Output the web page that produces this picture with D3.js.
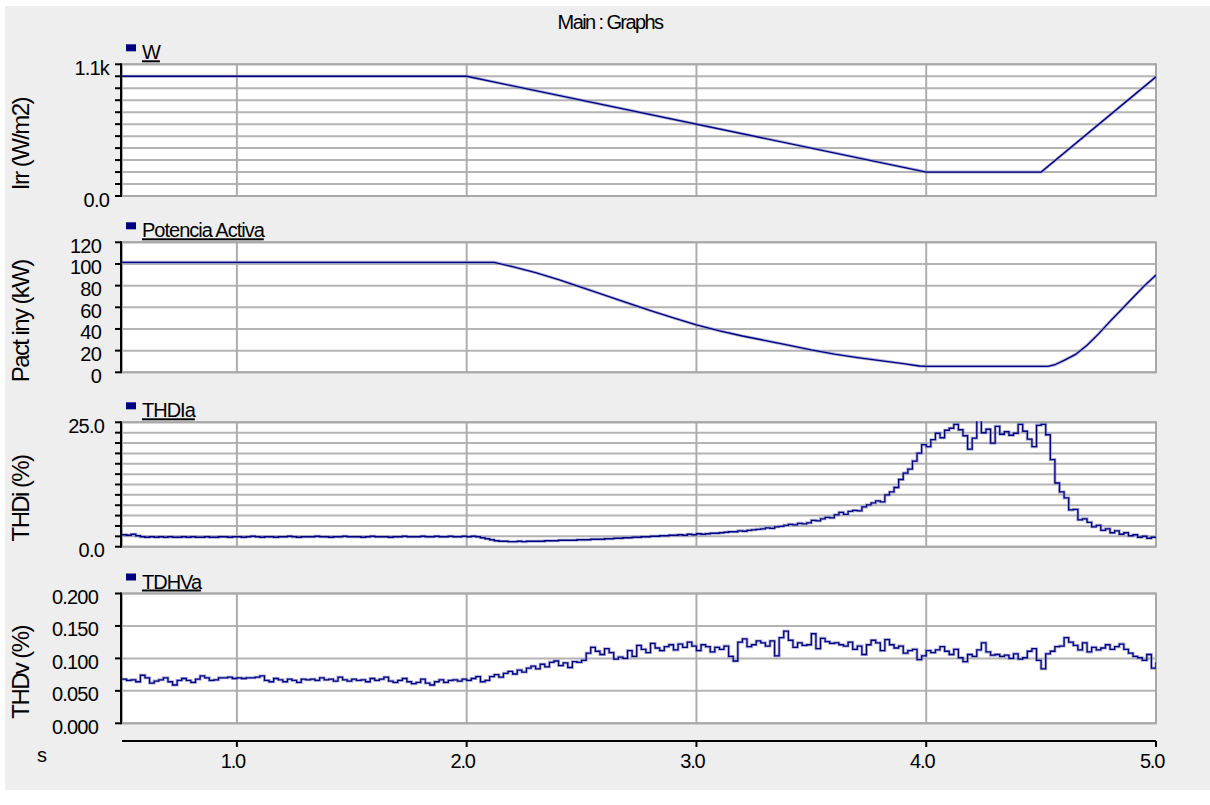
<!DOCTYPE html>
<html><head><meta charset="utf-8">
<script src="https://cdn.jsdelivr.net/npm/d3@7"></script>
<style>
html,body{margin:0;padding:0;background:#fff;}
svg{display:block;}
text{font-family:"Liberation Sans",Arial,sans-serif;fill:#000;}
</style></head><body>
<svg id="c" width="1210" height="805"></svg>
<script>
// ---------------- data ----------------
const chartTitle = "Main : Graphs";
const xTickValues = [1.0, 2.0, 3.0, 4.0, 5.0];
const xTickLabels = ["1.0", "2.0", "3.0", "4.0", "5.0"];
const legendNames = ["W", "Potencia Activa", "THDIa", "TDHVa"];
const yTitles = ["Irr (W/m2)", "Pact iny (kW)", "THDi (%)", "THDv (%)"];

const irrTicks = [0,100,200,300,400,500,600,700,800,900,1000,1100];
const irrTickLabels = ["0.0","","","","","","","","","","","1.1k"];
const pactTicks = [0,20,40,60,80,100,120];
const pactTickLabels = ["0","20","40","60","80","100","120"];
const thdiTicks = [0,2.0833,4.1667,6.25,8.3333,10.4167,12.5,14.5833,16.6667,18.75,20.8333,22.9167,25];
const thdiTickLabels = ["0.0","","","","","","","","","","","","25.0"];
const thdvTicks = [0,0.05,0.10,0.15,0.20];
const thdvTickLabels = ["0.000","0.050","0.100","0.150","0.200"];

// Irradiance (W/m2) breakpoints
const irrTime  = [0.5, 2.0, 4.0, 4.5, 5.0];
const irrValue = [1000, 1000, 200, 200, 995];

// Active power (kW) breakpoints
const pactTime  = [0.5, 2.0, 2.12, 2.2, 2.3, 2.4, 2.5, 2.6, 2.7, 2.8, 2.9, 3.0, 3.1, 3.2, 3.3, 3.4, 3.5, 3.6, 3.7, 3.8, 3.9, 3.97, 4.0, 4.53, 4.56, 4.6, 4.65, 4.7, 4.75, 4.8, 4.85, 4.9, 4.95, 5.0];
const pactValue = [101.5, 101.5, 101.5, 97.5, 92, 85.5, 78.5, 71.3, 64, 57, 50.2, 43.7, 38.3, 33.5, 29.3, 25, 20.6, 16.8, 13.6, 10.8, 8.0, 5.8, 5.5, 5.5, 7, 11, 16.5, 25, 35.5, 47, 58, 69, 80, 89.8];

// sampled traces: t = 0.50, 0.52, ... 5.00
const sampleStart = 0.5, sampleStep = 0.02;
const thdiValue = [
 2.4,2.3,2.5,2.2,2.0,1.9,2.0,1.9,2.0,1.9,
 2.0,1.9,1.9,2.0,1.9,2.0,1.9,1.9,2.0,1.9,
 1.9,2.0,2.0,1.9,2.0,2.0,1.9,2.0,2.1,2.0,
 1.9,2.0,2.0,1.9,2.0,2.0,2.1,2.0,1.9,2.0,
 2.0,2.0,2.1,2.0,2.0,1.9,2.0,2.0,2.1,2.0,
 2.0,2.0,1.9,2.0,2.1,2.0,2.0,2.0,1.9,2.0,
 2.0,2.1,2.0,2.0,2.0,2.1,2.0,2.0,2.1,2.0,
 2.0,2.1,2.0,2.0,2.1,2.0,2.1,2.0,1.8,1.6,
 1.4,1.2,1.1,1.1,1.0,1.0,1.1,1.0,1.1,1.1,
 1.1,1.1,1.2,1.2,1.2,1.3,1.3,1.3,1.3,1.4,
 1.4,1.4,1.5,1.5,1.5,1.6,1.6,1.7,1.7,1.8,
 1.8,1.9,1.9,2.0,2.0,2.1,2.1,2.2,2.2,2.3,
 2.3,2.4,2.3,2.5,2.4,2.6,2.5,2.6,2.7,2.7,
 2.8,2.9,3.0,3.0,3.2,3.1,3.3,3.4,3.5,3.6,
 3.8,3.7,4.0,4.1,4.3,4.5,4.4,4.7,4.6,4.8,
 5.3,5.2,5.6,5.9,5.8,6.4,6.9,6.5,7.1,7.3,
 7.2,8.0,8.4,8.8,9.2,9.0,10.4,11.0,11.9,13.5,
 14.8,15.6,17.2,18.8,20.5,20.1,21.5,22.8,21.9,23.4,
 23.8,24.6,23.5,22.3,19.6,21.8,25.5,22.9,23.6,20.8,
 24.2,22.6,23.1,22.4,22.8,24.6,23.2,21.6,20.1,24.4,
 24.6,22.5,17.5,12.8,11.0,9.8,7.4,7.5,5.4,5.6,
 4.9,4.0,4.3,3.3,3.6,2.8,3.2,2.5,2.8,2.2,
 2.4,1.9,2.1,1.7,1.9,1.8
];
const thdvValue = [
 .068,.066,.067,.064,.074,.070,.062,.065,.067,.070,
 .064,.059,.066,.069,.066,.063,.068,.073,.070,.066,
 .067,.070,.070,.071,.069,.070,.069,.070,.070,.071,
 .073,.066,.064,.069,.067,.064,.068,.066,.063,.068,
 .067,.068,.066,.070,.067,.068,.065,.071,.067,.065,
 .068,.066,.067,.064,.069,.066,.068,.071,.065,.063,
 .066,.069,.064,.061,.063,.068,.062,.059,.064,.067,
 .063,.066,.067,.065,.068,.066,.069,.072,.064,.066,
 .072,.075,.071,.077,.080,.076,.082,.079,.085,.088,
 .084,.091,.087,.094,.096,.089,.093,.086,.095,.094,
 .097,.108,.117,.111,.106,.115,.109,.099,.102,.100,
 .112,.103,.120,.114,.109,.123,.116,.112,.118,.121,
 .113,.122,.117,.125,.119,.112,.121,.118,.110,.117,
 .114,.119,.103,.096,.125,.130,.118,.121,.127,.124,
 .119,.127,.104,.132,.142,.128,.117,.124,.120,.121,
 .138,.115,.131,.126,.123,.124,.121,.119,.125,.114,
 .119,.106,.121,.128,.124,.112,.129,.121,.116,.119,
 .108,.112,.114,.098,.104,.112,.109,.113,.118,.111,
 .106,.114,.101,.095,.106,.103,.113,.124,.110,.105,
 .106,.103,.105,.100,.107,.099,.101,.111,.115,.097,
 .084,.107,.111,.118,.119,.132,.125,.120,.113,.124,
 .110,.117,.113,.116,.121,.114,.118,.122,.114,.108,
 .103,.101,.097,.106,.085,.094
];

// ---------------- drawing ----------------
const svg = d3.select("#c");
const FONT = 20;
const X0 = 122, X1 = 1156;
const x = d3.scaleLinear().domain([0.5, 5.0]).range([X0, X1]);

svg.append("rect").attr("x",0).attr("y",0).attr("width",1210).attr("height",805).attr("fill","#ffffff");
svg.append("rect").attr("x",5).attr("y",6).attr("width",1205).attr("height",784).attr("fill","#eeeeee");

svg.append("text").attr("x",610).attr("y",29).attr("text-anchor","middle")
  .attr("font-size",20).attr("letter-spacing","-1.6px").text(chartTitle);

const sampled = vals => vals.map((v,i) => [sampleStart + i*sampleStep, v]);
const panels = [
  {top:64.3, bottom:196, domain:[0,1100], ticks:irrTicks, labels:irrTickLabels, lx:109,
   data: irrTime.map((t,i)=>[t, irrValue[i]]), curve:d3.curveLinear},
  {top:242.3, bottom:372.3, domain:[0,120], ticks:pactTicks, labels:pactTickLabels, lx:101,
   data: pactTime.map((t,i)=>[t, pactValue[i]]), curve:d3.curveLinear},
  {top:422.3, bottom:546.7, domain:[0,25], ticks:thdiTicks, labels:thdiTickLabels, lx:104,
   data: sampled(thdiValue), curve:d3.curveStepAfter},
  {top:593.5, bottom:723.3, domain:[0,0.2], ticks:thdvTicks, labels:thdvTickLabels, lx:98,
   data: sampled(thdvValue), curve:d3.curveStepAfter}
];

panels.forEach((p, k) => {
  const y = d3.scaleLinear().domain(p.domain).range([p.bottom, p.top]);
  const g = svg.append("g");
  g.append("rect").attr("x",X0).attr("y",p.top).attr("width",X1-X0).attr("height",p.bottom-p.top).attr("fill","#fff");
  // horizontal grid
  g.selectAll(".hg").data(p.ticks).enter().append("line")
    .attr("x1",X0).attr("x2",X1).attr("y1",d=>y(d)).attr("y2",d=>y(d))
    .attr("stroke","#b4b4b4").attr("stroke-width",2);
  // vertical grid
  g.selectAll(".vg").data(xTickValues.filter(v=>v<5)).enter().append("line")
    .attr("x1",d=>x(d)).attr("x2",d=>x(d)).attr("y1",p.top).attr("y2",p.bottom)
    .attr("stroke","#adadad").attr("stroke-width",2);
  // frame
  g.append("rect").attr("x",X0).attr("y",p.top).attr("width",X1-X0).attr("height",p.bottom-p.top)
    .attr("fill","none").attr("stroke","#a8a8a8").attr("stroke-width",2);
  // data
  const clipId = "clip"+k;
  svg.append("clipPath").attr("id",clipId).append("rect")
    .attr("x",X0).attr("y",p.top-1).attr("width",X1-X0).attr("height",p.bottom-p.top+2);
  const line = d3.line().x(d=>x(d[0])).y(d=>y(d[1])).curve(p.curve);
  const dg = g.append("g").attr("clip-path",`url(#${clipId})`);
  dg.append("path").attr("d",line(p.data)).attr("fill","none")
    .attr("stroke","#8c8cc8").attr("stroke-width",3).attr("stroke-opacity",0.7);
  dg.append("path").attr("d",line(p.data)).attr("fill","none")
    .attr("stroke","#000080").attr("stroke-width",1.3);
  // left axis
  g.append("line").attr("x1",X0-1).attr("x2",X0-1).attr("y1",p.top-1).attr("y2",p.bottom+1)
    .attr("stroke","#000").attr("stroke-width",2);
  g.selectAll(".yt").data(p.ticks).enter().append("line")
    .attr("x1",115).attr("x2",X0-1).attr("y1",d=>y(d)).attr("y2",d=>y(d))
    .attr("stroke","#000").attr("stroke-width",2);
  g.selectAll(".yl").data(p.ticks.map((t,i)=>[t,p.labels[i]]).filter(d=>d[1]!=="")).enter().append("text")
    .attr("x",p.lx).attr("y",d=>y(d[0])+10.5).attr("text-anchor","end")
    .attr("font-size",FONT).attr("letter-spacing","-0.8px").text(d=>d[1]);
  // y title
  const cy = (p.top+p.bottom)/2 + 14;
  g.append("text").attr("transform",`translate(29,${cy}) rotate(-90)`).attr("text-anchor","middle")
    .attr("font-size",24).attr("letter-spacing","-1.6px").text(yTitles[k]);
  // legend
  g.append("rect").attr("x",126).attr("y",p.top-20).attr("width",10).attr("height",7).attr("fill","#000080");
  g.append("text").attr("x",142).attr("y",p.top-5)
    .attr("font-size",FONT).attr("letter-spacing","-1.0px").attr("text-decoration","underline").text(legendNames[k]);
});

// x axis
const xa = svg.append("g");
xa.append("line").attr("x1",X0).attr("x2",X1).attr("y1",741).attr("y2",741).attr("stroke","#000").attr("stroke-width",2);
xa.selectAll(".xt").data(xTickValues).enter().append("line")
  .attr("x1",d=>x(d)).attr("x2",d=>x(d)).attr("y1",741).attr("y2",747).attr("stroke","#000").attr("stroke-width",2);
xa.selectAll(".xl").data(xTickValues).enter().append("text")
  .attr("x",d=>x(d)-4).attr("y",768).attr("text-anchor","middle")
  .attr("font-size",FONT).attr("letter-spacing","-1.2px").text((d,i)=>xTickLabels[i]);
xa.append("text").attr("x",42).attr("y",762).attr("text-anchor","middle").attr("font-size",FONT).text("s");
</script>
</body></html>
